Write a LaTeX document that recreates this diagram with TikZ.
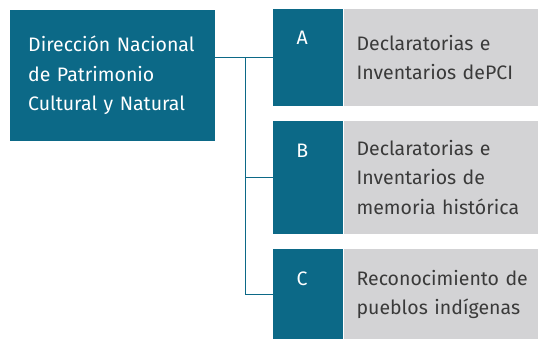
\documentclass[tikz,border=0pt]{standalone}
\usepackage{fontspec}
\setmainfont{Fira Sans}
\usepackage{tikz}
\usetikzlibrary{positioning}
\definecolor{dnteal}{HTML}{0C6987}
\definecolor{dngray}{HTML}{D3D3D5}
\definecolor{dntext}{HTML}{3A3A3A}
\tikzstyle{headblock} = [rectangle, fill=dnteal, text=white, inner sep=0pt, inner xsep=18pt,
text width=169pt, align=left, minimum width=205pt, minimum height=131pt]
\tikzstyle{tabblock} = [rectangle, fill=dnteal, inner sep=0pt, minimum width=70pt]
\tikzstyle{itemblock} = [rectangle, fill=dngray, text=dntext, inner sep=0pt, inner xsep=13pt,
text width=169pt, align=left, minimum width=195pt]
\tikzstyle{letter} = [text=white, inner sep=0pt]
\tikzstyle{conn} = [draw=dnteal, line width=0.9pt]

\begin{document}
\begin{tikzpicture}[x=1pt, y=1pt]
    \tikzstyle{every node}=[font=\fontsize{19.5}{29.5}\selectfont]
    \useasboundingbox (0,0) rectangle (538,-339);
	\node (Dir) [headblock, anchor=north west] at (10,-10) {Dirección~Nacional\\de Patrimonio\\Cultural~y~Natural};
	\node (Abox) [tabblock, minimum height=97pt, anchor=north west] at (273,-9) {};
	\node (Atext) [itemblock, minimum height=97pt, right=0pt of Abox] {Declaratorias e\\Inventarios~dePCI};
	\node (Bbox) [tabblock, minimum height=113pt, below=14pt of Abox] {};
	\node (Btext) [itemblock, minimum height=113pt, right=0pt of Bbox] {Declaratorias e\\Inventarios de\\memoria~histórica};
	\node (Cbox) [tabblock, minimum height=91pt, below=15pt of Bbox] {};
	\node (Ctext) [itemblock, minimum height=91pt, right=0pt of Cbox] {Reconocimiento~de\\pueblos indígenas};
	\node (Alet) [letter] at ([shift={(-6pt,-29pt)}]Abox.north) {A};
	\node (Blet) [letter] at ([shift={(-6pt,-30pt)}]Bbox.north) {B};
	\node (Clet) [letter] at ([shift={(-6pt,-30pt)}]Cbox.north) {C};
	\coordinate (fork) at ([xshift=-28pt]Abox.west);

	\draw [conn] (Dir.east |- Abox.west) -- (Abox.west);
	\draw [conn] (fork) |- (Bbox.west);
	\draw [conn] (fork) |- (Cbox.west);
\end{tikzpicture}
\end{document}
